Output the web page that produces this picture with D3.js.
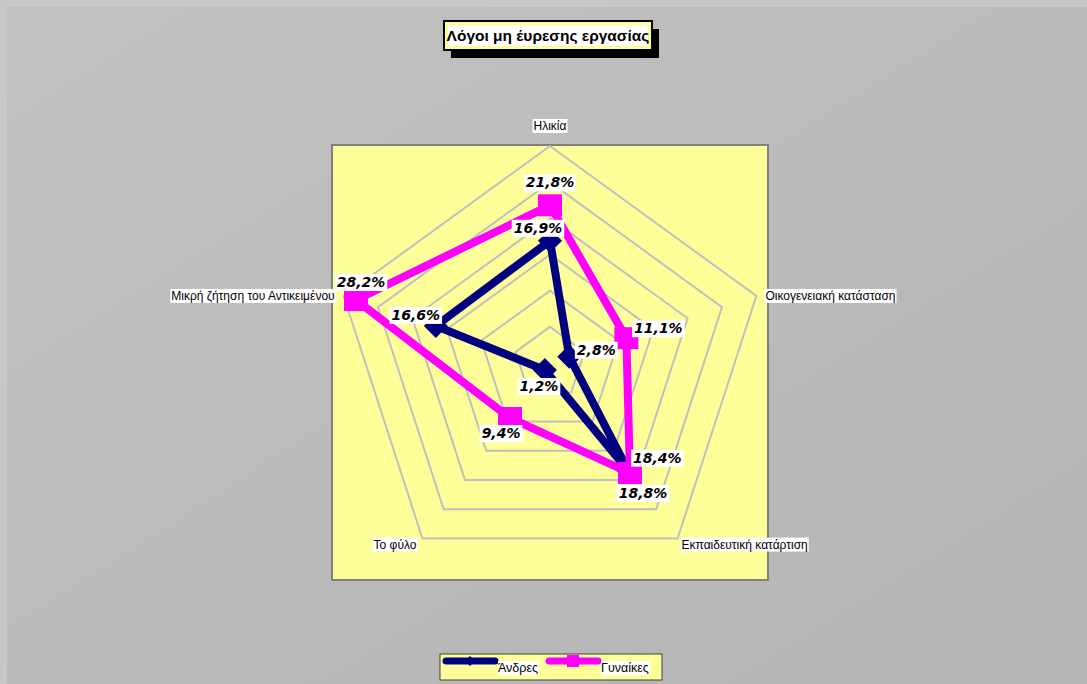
<!DOCTYPE html>
<meta charset="utf-8">
<script src="https://d3js.org/d3.v7.min.js"></script>
<style>
body { margin: 0; background: #c8c8c8; }
svg { display: block; }
.axislabel { font-family: "Liberation Sans", Arial, sans-serif; font-size: 12px; fill: #000; }
.dlabel { font-family: "DejaVu Sans", Verdana, sans-serif; font-size: 14px; font-weight: bold; font-style: italic; fill: #000; }
</style>
<body>
<script>

// chart data
var categories = ["Ηλικία", "Οικογενειακή κατάσταση", "Εκπαιδευτική κατάρτιση", "Το φύλο", "Μικρή ζήτηση του Αντικειμένου"];
var seriesNames = ["Άνδρες", "Γυναίκες"];
var menValues = [16.9, 2.8, 18.4, 1.2, 16.6];
var womenValues = [21.8, 11.1, 18.8, 9.4, 28.2];
var ringTicks = [5, 10, 15, 20, 25, 30];
var title = "Λόγοι μη έυρεσης εργασίας";

var width = 1087, height = 684;
var plot = {x: 332, y: 145, w: 436, h: 435};
var cx = plot.x + plot.w / 2, cy = plot.y + plot.h / 2 + 0.5;

var r = d3.scaleLinear().domain([0, 30]).range([0, 217]);
var angle = d3.scalePoint().domain(d3.range(categories.length)).range([0, 2 * Math.PI * (categories.length - 1) / categories.length]);

function pt(i, v) {
    var a = angle(i);
    return [cx + r(v) * Math.sin(a), cy - r(v) * Math.cos(a)];
}

var svg = d3.select("body").append("svg")
    .attr("width", width)
    .attr("height", height);

var defs = svg.append("defs");
var grad = defs.append("linearGradient").attr("id", "bg")
    .attr("x1", "0").attr("y1", "0").attr("x2", "1").attr("y2", "1");
grad.append("stop").attr("offset", "0").attr("stop-color", "#c1c1c1");
grad.append("stop").attr("offset", "1").attr("stop-color", "#b5b5b5");

svg.append("rect")
    .attr("x", 7).attr("y", 7)
    .attr("width", width - 7).attr("height", height - 7)
    .attr("fill", "url(#bg)");

// title box
var tg = svg.append("g");
var tbox = {x: 444, y: 21, w: 208, h: 29};
tg.append("rect").attr("x", tbox.x + 7).attr("y", tbox.y + 8)
    .attr("width", tbox.w).attr("height", tbox.h).attr("fill", "#000");
tg.append("rect").attr("x", tbox.x).attr("y", tbox.y)
    .attr("width", tbox.w).attr("height", tbox.h)
    .attr("fill", "#ffff99").attr("stroke", "#000").attr("stroke-width", 2);
tg.append("rect").attr("x", tbox.x + 4).attr("y", tbox.y + 4)
    .attr("width", tbox.w - 8).attr("height", tbox.h - 8).attr("fill", "#fff");
tg.append("text")
    .attr("x", tbox.x + tbox.w / 2).attr("y", tbox.y + 20)
    .attr("text-anchor", "middle")
    .style("font-family", "'Liberation Sans', Arial, sans-serif")
    .style("font-size", "15.5px").style("font-weight", "bold")
    .text(title);

// plot area
svg.append("rect")
    .attr("x", plot.x).attr("y", plot.y)
    .attr("width", plot.w).attr("height", plot.h)
    .attr("fill", "#ffff99").attr("stroke", "#808080").attr("stroke-width", 2);

// rings
svg.append("g").selectAll("polygon")
    .data(ringTicks)
    .enter().append("polygon")
    .attr("points", function(t) {
        return categories.map(function(c, i) { return pt(i, t).join(","); }).join(" ");
    })
    .attr("fill", "none")
    .attr("stroke", "#c0c0c0")
    .attr("stroke-width", 2);

// category labels
var catOffsets = [[0, -16, "middle"], [9, 4, "start"], [4, 10, "start"], [-6, 10, "end"], [-9, 4, "end"]];
var cl = svg.append("g").selectAll("g")
    .data(categories)
    .enter().append("g")
    .attr("transform", function(d, i) {
        var p = pt(i, 30);
        return "translate(" + (p[0] + catOffsets[i][0]) + "," + (p[1] + catOffsets[i][1]) + ")";
    });
cl.append("rect").attr("class", "lbg").attr("fill", "#fff");
cl.append("text")
    .attr("class", "axislabel")
    .attr("text-anchor", function(d, i) { return catOffsets[i][2]; })
    .text(function(d) { return d; });
cl.each(function() {
    var b = d3.select(this).select("text").node().getBBox();
    d3.select(this).select("rect")
        .attr("x", b.x - 1).attr("y", b.y).attr("width", b.width + 2).attr("height", b.height);
});

var series = [
    {name: seriesNames[0], values: menValues, color: "#000080", marker: "diamond"},
    {name: seriesNames[1], values: womenValues, color: "#ff00ff", marker: "square"}
];

var line = d3.line().curve(d3.curveLinearClosed);

function drawMarker(g, type, color) {
    if (type == "diamond") {
        g.append("path").attr("d", "M0,-12L12,0L0,12L-12,0Z").attr("fill", color);
    } else {
        g.append("rect").attr("x", -12).attr("y", -11).attr("width", 24).attr("height", 22).attr("fill", color);
    }
}

series.forEach(function(s) {
    var pts = s.values.map(function(v, i) { return pt(i, v); });
    svg.append("path")
        .attr("d", line(pts))
        .attr("fill", "none")
        .attr("stroke", s.color)
        .attr("stroke-width", 8);
    pts.forEach(function(p) {
        var m = svg.append("g").attr("transform", "translate(" + p[0] + "," + p[1] + ")");
        drawMarker(m, s.marker, s.color);
    });
});

// data labels
var labelOffsets = [
    [[-12, -13], [27, -7], [29, -13], [-6, 16], [-20, -11]],
    [[0, -23], [32, -10], [13, 20], [-9, 15], [5, -18]]
];
series.forEach(function(s, si) {
    s.values.forEach(function(v, i) {
        var p = pt(i, v);
        var g = svg.append("g")
            .attr("transform", "translate(" + (p[0] + labelOffsets[si][i][0]) + "," + (p[1] + labelOffsets[si][i][1]) + ")");
        var rect = g.append("rect").attr("fill", "#fff");
        var t = g.append("text")
            .attr("class", "dlabel")
            .attr("text-anchor", "middle")
            .attr("dy", "0.36em")
            .text(String(v.toFixed(1)).replace(".", ",") + "%");
        var b = t.node().getBBox();
        rect.attr("x", b.x - 2).attr("y", b.y).attr("width", b.width + 4).attr("height", b.height + 1);
    });
});

// legend
var lg = svg.append("g");
lg.append("rect")
    .attr("x", 440).attr("y", 654).attr("width", 222).attr("height", 26)
    .attr("fill", "#ffff99").attr("stroke", "#404040").attr("stroke-width", 1);
var legX = [443, 546];
series.forEach(function(s, si) {
    var x0 = legX[si], yy = 661;
    lg.append("line")
        .attr("x1", x0 + 3).attr("x2", x0 + 52).attr("y1", yy).attr("y2", yy)
        .attr("stroke", s.color).attr("stroke-width", 7).attr("stroke-linecap", "round");
    var m = lg.append("g").attr("transform", "translate(" + (x0 + 27) + "," + yy + ")");
    if (s.marker == "diamond") {
        m.append("path").attr("d", "M0,-5L5,0L0,5L-5,0Z").attr("fill", s.color);
    } else {
        m.append("rect").attr("x", -6).attr("y", -6).attr("width", 12).attr("height", 12).attr("fill", s.color);
    }
    var tr = lg.append("rect").attr("fill", "#fff");
    var tt = lg.append("text")
        .attr("class", "axislabel")
        .attr("x", x0 + 55).attr("y", 672)
        .style("font-size", "12.5px")
        .text(s.name);
    var b = tt.node().getBBox();
    tr.attr("x", b.x).attr("y", b.y).attr("width", b.width + 1).attr("height", b.height);
});

</script>
</body>
